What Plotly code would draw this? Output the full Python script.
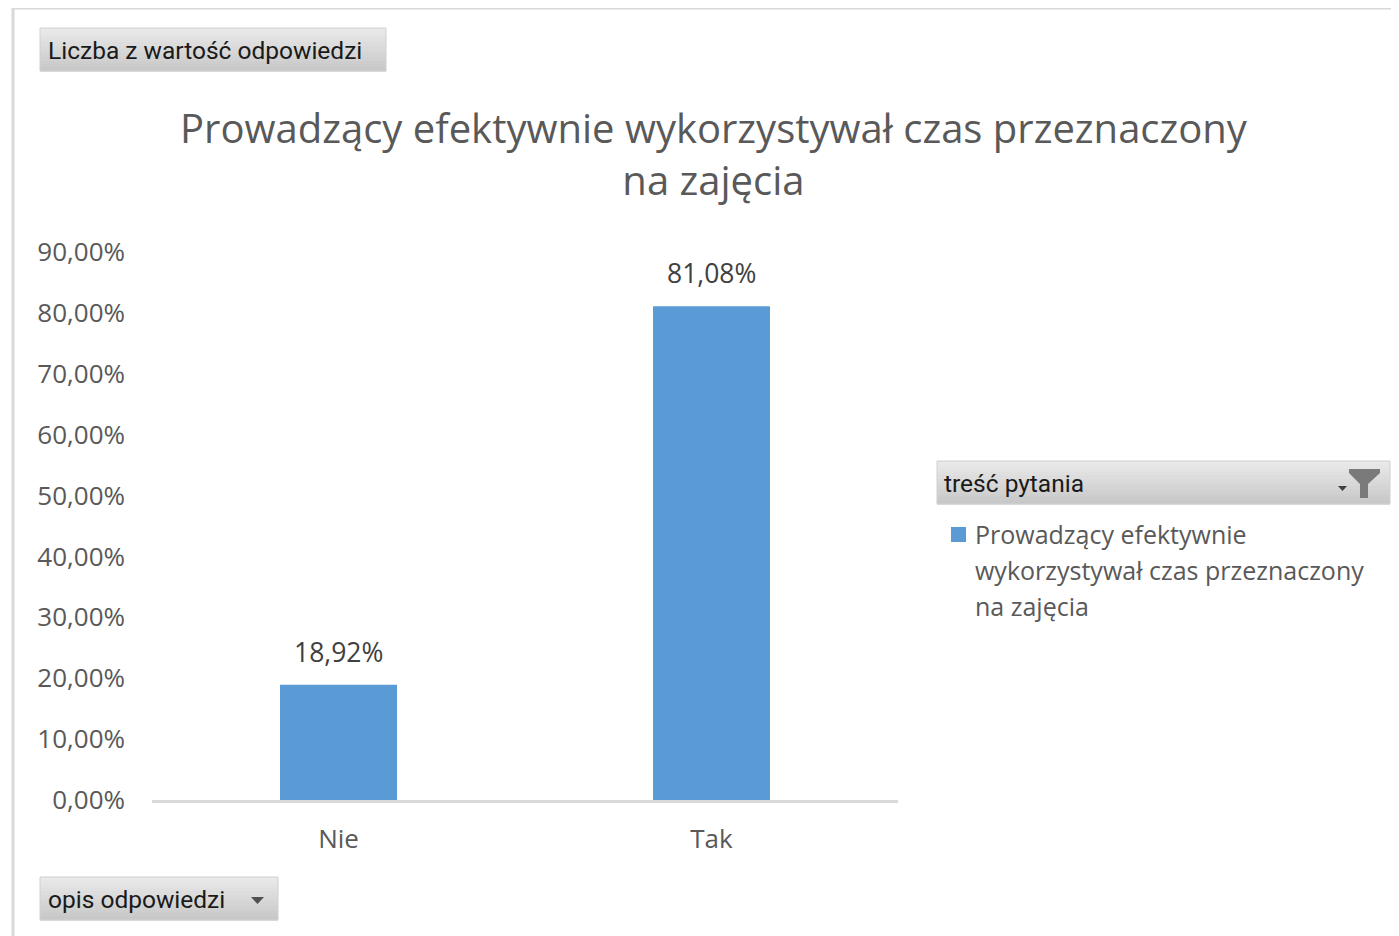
import plotly.graph_objects as go

# ---- data ----
categories = ["Nie", "Tak"]
values = [0.1892, 0.8108]
series_name = "Prowadzący efektywnie wykorzystywał czas przeznaczony na zajęcia"
legend_lines = ["Prowadzący efektywnie", "wykorzystywał czas przeznaczony", "na zajęcia"]
title_text = "Prowadzący efektywnie wykorzystywał czas przeznaczony<br>na zajęcia"
y_ticks = [0.0, 0.1, 0.2, 0.3, 0.4, 0.5, 0.6, 0.7, 0.8, 0.9]
button_value = "Liczba z wartość odpowiedzi"
button_legend = "treść pytania"
button_axis = "opis odpowiedzi"

# ---- layout geometry (page pixels; figure sits at an 8px page offset) ----
OFF = 8
W_PX, H_PX = 1399 - OFF, 936 - OFF
L, R, T, B = 152 - OFF, 898 - OFF, 252 - OFF, 800 - OFF
PW, PH = R - L, B - T


def px(x):
    return (x - OFF - L) / PW


def py(y):
    return (B - (y - OFF)) / PH


BAR_COLOR = "#5b9bd5"
TXT = "#595959"
FONT = "Open Sans"

fig = go.Figure()
fig.add_trace(go.Bar(
    x=categories, y=values, name=series_name,
    marker=dict(color=BAR_COLOR, line=dict(width=0)),
    showlegend=False, hoverinfo="x+y",
))

shapes = []
annotations = []

# data labels
for c, v in zip(categories, values):
    annotations.append(dict(
        x=c, y=v, xref="x", yref="y", text=f"{v*100:.2f}%".replace(".", ","),
        showarrow=False, yanchor="bottom", yshift=13,
        font=dict(family=FONT, size=26.5, color="#404040"),
    ))

# title
annotations.append(dict(
    x=px(714), y=py(153), xref="paper", yref="paper", text=title_text,
    showarrow=False, xanchor="center", yanchor="middle",
    font=dict(family=FONT, size=40, color=TXT),
))

# frame lines
shapes.append(dict(type="line", xref="paper", yref="paper",
                   x0=px(13), x1=px(1405), y0=py(8), y1=py(8),
                   line=dict(color="#d9d9d9", width=3)))
shapes.append(dict(type="line", xref="paper", yref="paper",
                   x0=px(13), x1=px(13), y0=py(8), y1=py(945),
                   line=dict(color="#d9d9d9", width=3)))


def gradient_box(x0, y0, x1, y1, n=12):
    top = (233, 233, 233)
    bot = (200, 200, 200)
    h = (y1 - y0) / n
    for i in range(n):
        t = i / (n - 1)
        col = tuple(int(top[k] + (bot[k] - top[k]) * t) for k in range(3))
        shapes.append(dict(type="rect", xref="paper", yref="paper",
                           x0=px(x0), x1=px(x1), y0=py(y0 + i * h), y1=py(y0 + (i + 1) * h + 0.6),
                           fillcolor="rgb(%d,%d,%d)" % col, line=dict(width=0), layer="below"))
    shapes.append(dict(type="rect", xref="paper", yref="paper",
                       x0=px(x0), x1=px(x1), y0=py(y0), y1=py(y1),
                       fillcolor="rgba(0,0,0,0)", line=dict(color="#d0d0d0", width=1)))


BTN_FONT = dict(family="Roboto", size=24.5, color="#1a1a1a")

gradient_box(40, 28, 386, 71)
annotations.append(dict(x=px(46), y=py(50), xref="paper", yref="paper", text=button_value,
                        showarrow=False, xanchor="left", yanchor="middle", font=BTN_FONT))

gradient_box(937, 461, 1390, 504)
annotations.append(dict(x=px(942), y=py(483), xref="paper", yref="paper", text=button_legend,
                        showarrow=False, xanchor="left", yanchor="middle", font=BTN_FONT))

gradient_box(40, 877, 278, 920)
annotations.append(dict(x=px(46), y=py(899), xref="paper", yref="paper", text=button_axis,
                        showarrow=False, xanchor="left", yanchor="middle", font=BTN_FONT))


def path(points):
    d = "M " + " L ".join(f"{px(x)},{py(y)}" for x, y in points) + " Z"
    return d


# dropdown arrow on axis button
shapes.append(dict(type="path", xref="paper", yref="paper",
                   path=path([(251, 897), (264, 897), (257.5, 904)]),
                   fillcolor="#505050", line=dict(width=0)))
# funnel icon + small arrow on legend button
shapes.append(dict(type="path", xref="paper", yref="paper",
                   path=path([(1349, 469), (1380, 469), (1380, 473), (1368, 484), (1368, 498),
                              (1360, 498), (1360, 484), (1349, 473)]),
                   fillcolor="#7a7a7a", line=dict(width=0)))
shapes.append(dict(type="path", xref="paper", yref="paper",
                   path=path([(1338, 486), (1347, 486), (1342.5, 491)]),
                   fillcolor="#404040", line=dict(width=0)))

# legend (manual)
shapes.append(dict(type="rect", xref="paper", yref="paper",
                   x0=px(951), x1=px(966), y0=py(527), y1=py(542),
                   fillcolor=BAR_COLOR, line=dict(width=0)))
for i, line in enumerate(legend_lines):
    annotations.append(dict(x=px(973), y=py(534 + 36 * i), xref="paper", yref="paper", text=line,
                            showarrow=False, xanchor="left", yanchor="middle",
                            font=dict(family=FONT, size=25, color=TXT)))

fig.update_layout(
    width=W_PX, height=H_PX,
    margin=dict(l=L, r=W_PX - R, t=T, b=H_PX - B, pad=0),
    paper_bgcolor="white", plot_bgcolor="white",
    separators=", ",
    bargap=1 - 117 / 373,
    shapes=shapes, annotations=annotations,
    font=dict(family=FONT, color=TXT),
    xaxis=dict(showgrid=False, showline=True, linecolor="#d9d9d9", linewidth=2.5,
               ticks="", tickfont=dict(family=FONT, size=26, color=TXT),
               ticklabelstandoff=14, fixedrange=True),
    yaxis=dict(range=[0, 0.9], tickvals=y_ticks, tickformat=".2%", showgrid=False,
               zeroline=False, showline=False, ticks="",
               tickfont=dict(family=FONT, size=26, color=TXT),
               ticklabelstandoff=26, fixedrange=True),
)

fig.write_html("out.html")
